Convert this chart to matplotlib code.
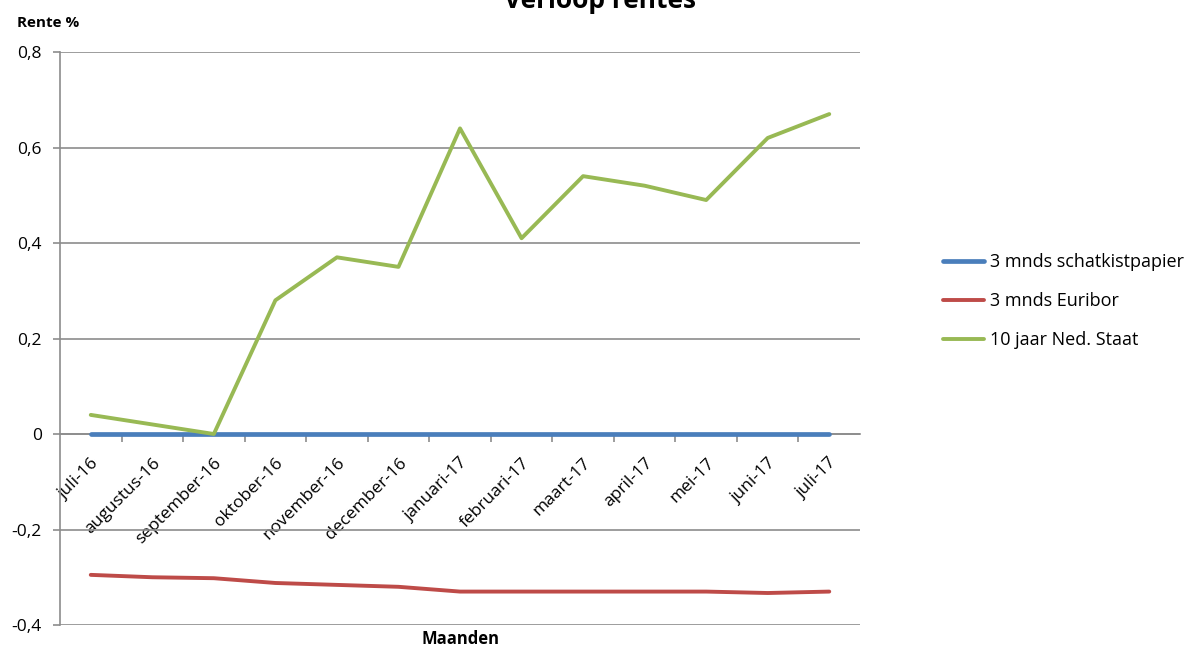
import matplotlib
matplotlib.use("Agg")
import numpy as np
from matplotlib import pyplot as plt
from matplotlib.ticker import FixedLocator, FuncFormatter

plt.rcParams['font.family'] = ['Open Sans', 'DejaVu Sans']

maanden = ['juli-16', 'augustus-16', 'september-16', 'oktober-16', 'november-16',
           'december-16', 'januari-17', 'februari-17', 'maart-17', 'april-17',
           'mei-17', 'juni-17', 'juli-17']
schatkist = [0, 0, 0, 0, 0, 0, 0, 0, 0, 0, 0, 0, 0]
euribor = [-0.295, -0.30, -0.302, -0.312, -0.316, -0.32, -0.33, -0.33, -0.33,
           -0.33, -0.33, -0.333, -0.33]
staat10 = [0.04, 0.02, 0.0, 0.28, 0.37, 0.35, 0.64, 0.41, 0.54, 0.52, 0.49,
           0.62, 0.67]

fig = plt.figure(figsize=(11.95, 6.46), dpi=100)
ax = fig.add_axes([0.0502, 0.0325, 0.6695, 0.887])

x = np.arange(len(maanden))
ax.plot(x, schatkist, color='#4A7EBB', lw=3.4, label='3 mnds schatkistpapier',
        solid_capstyle='round', zorder=3)
ax.plot(x, euribor, color='#BE4B48', lw=2.8, label='3 mnds Euribor',
        solid_capstyle='round', zorder=3)
ax.plot(x, staat10, color='#98B954', lw=2.8, label='10 jaar Ned. Staat',
        solid_capstyle='round', zorder=3)

ax.set_xlim(-0.5, len(maanden) - 0.5)
ax.set_ylim(-0.4, 0.8)
ax.set_yticks(np.arange(-0.4, 0.81, 0.2))
ax.yaxis.set_major_formatter(FuncFormatter(
    lambda v, p: '0' if abs(v) < 1e-9 else f'{v:.1f}'.replace('.', ',')))
ax.grid(axis='y', color='#8c8c8c', lw=1.2)
ax.set_axisbelow(True)

for s in ['top', 'right']:
    ax.spines[s].set_visible(False)
ax.spines['left'].set_color('#8c8c8c')
ax.spines['left'].set_linewidth(1.2)
ax.spines['bottom'].set_position(('data', 0))
ax.spines['bottom'].set_color('#8c8c8c')
ax.spines['bottom'].set_linewidth(1.2)

ax.set_xticks(x)
ax.set_xticklabels(maanden, rotation=45, ha='right', rotation_mode='anchor')
ax.tick_params(axis='x', length=0, pad=15, labelsize=12.5)
ax.xaxis.set_minor_locator(FixedLocator(np.arange(0.5, len(maanden) - 0.5, 1)))
ax.tick_params(axis='x', which='minor', length=6, color='#8c8c8c', width=1.2)
ax.tick_params(axis='y', length=5, color='#8c8c8c', width=1.2, labelsize=12.5, pad=8)

ax.text(0.5, -0.008, 'Maanden', transform=ax.transAxes, ha='center', va='top',
        fontsize=12, fontweight='bold')
fig.text(0.014, 0.965, 'Rente %', ha='left', va='center', fontsize=11,
         fontweight='bold')
fig.text(0.502, 1.0, 'Verloop rentes', ha='center', va='center', fontsize=19,
         fontweight='bold')

ax.legend(loc='center left', bbox_to_anchor=(1.083, 0.565), frameon=False,
          fontsize=13, handlelength=2.3, handletextpad=0.3, labelspacing=1.15)

fig.savefig('out.png', dpi=100)
